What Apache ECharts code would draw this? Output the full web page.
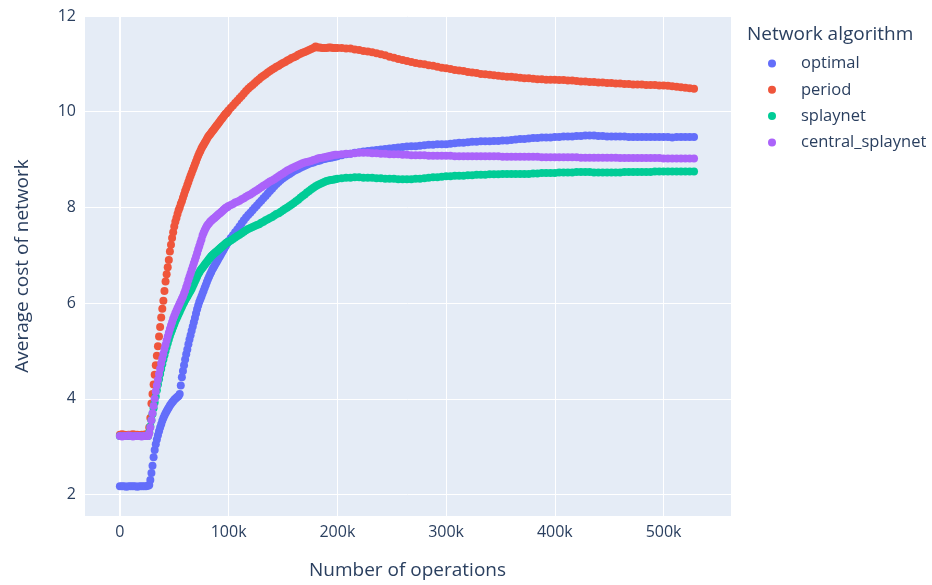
<!DOCTYPE html>
<html>
<head>
<meta charset="utf-8">
<script src="https://cdn.jsdelivr.net/npm/echarts@6/dist/echarts.min.js"></script>
<style>
html,body{margin:0;padding:0;background:#fff;}
#chart{width:932px;height:585px;}
</style>
</head>
<body>
<div id="chart"></div>
<script>
// Number of operations (in thousands)
const opsK = [
  0,2,4,6,8,10,12,14,16,18,20,22,24,26,
  27,28,29,30,31,32,33,34,35,36,37,38,39,40,41,42,43,44,45,46,47,48,49,50,
  51,52,53,54,55,56,57,58,59,60,61,62,63,64,65,66,67,68,69,70,71,72,73,74,75,
  76,77,78,79,80,81,82,83,84,85,86,87,88,89,90,91,92,93,94,95,96,97,98,99,100,
  102,104,106,108,110,112,114,116,118,120,
  122,124,126,128,130,132,134,136,138,140,
  142,144,146,148,150,152,154,156,158,160,
  162,164,166,168,170,172,174,176,178,180,
  182,184,186,188,190,192,194,196,198,200,
  204,208,212,216,220,224,228,232,236,240,
  244,248,252,256,260,264,268,272,276,280,
  284,288,292,296,300,304,308,312,316,320,
  324,328,332,336,340,344,348,352,356,360,
  364,368,372,376,380,384,388,392,396,400,
  404,408,412,416,420,424,428,432,436,440,
  444,448,452,456,460,464,468,472,476,480,
  484,488,492,496,500,504,508,512,516,520,
  524,528
];

const seriesNames = ['optimal','period','splaynet','central_splaynet'];

const optimal = [
  2.17,2.17,2.17,2.16,2.17,2.17,2.17,2.17,2.16,2.17,2.17,2.17,2.17,2.18,
  2.2,2.3,2.45,2.6,2.78,2.93,3.05,3.15,3.24,3.32,3.4,3.47,3.54,3.6,3.65,3.7,3.74,3.78,3.82,3.86,3.89,3.92,3.95,3.98,
  4.0,4.02,4.04,4.06,4.1,4.28,4.45,4.58,4.7,4.82,4.93,5.03,5.14,5.24,5.33,5.42,5.51,5.6,5.69,5.78,5.87,5.95,6.02,6.08,6.14,
  6.2,6.26,6.32,6.38,6.44,6.5,6.55,6.6,6.65,6.7,6.74,6.78,6.82,6.86,6.9,6.94,6.98,7.02,7.06,7.1,7.14,7.18,7.22,7.26,7.3,
  7.36,7.42,7.48,7.54,7.6,7.67,7.73,7.79,7.84,7.89,
  7.94,7.99,8.04,8.09,8.14,8.19,8.24,8.29,8.34,8.39,
  8.44,8.49,8.53,8.57,8.61,8.64,8.67,8.7,8.73,8.76,
  8.78,8.8,8.83,8.85,8.87,8.89,8.91,8.93,8.94,8.96,
  8.97,8.98,9.0,9.01,9.02,9.03,9.04,9.05,9.06,9.07,
  9.09,9.11,9.12,9.14,9.15,9.17,9.18,9.19,9.2,9.21,
  9.22,9.23,9.24,9.25,9.26,9.27,9.28,9.28,9.29,9.3,
  9.31,9.31,9.32,9.32,9.32,9.33,9.34,9.35,9.35,9.36,
  9.37,9.37,9.38,9.38,9.38,9.39,9.39,9.4,9.4,9.41,
  9.42,9.43,9.43,9.44,9.45,9.45,9.46,9.46,9.46,9.47,
  9.47,9.48,9.48,9.48,9.49,9.49,9.5,9.5,9.5,9.49,
  9.49,9.48,9.48,9.48,9.48,9.48,9.47,9.47,9.47,9.47,
  9.47,9.47,9.47,9.47,9.47,9.47,9.46,9.47,9.47,9.47,
  9.47,9.47
];

const period = [
  3.25,3.26,3.25,3.24,3.25,3.25,3.26,3.25,3.25,3.24,3.25,3.25,3.26,3.25,
  3.4,3.6,3.9,4.1,4.3,4.5,4.7,4.9,5.1,5.3,5.5,5.7,5.88,6.05,6.25,6.45,6.6,6.75,6.9,7.08,7.22,7.36,7.48,7.6,
  7.7,7.78,7.86,7.94,8.0,8.07,8.13,8.2,8.27,8.34,8.4,8.47,8.53,8.6,8.66,8.72,8.78,8.84,8.9,8.96,9.02,9.08,9.13,9.18,9.23,
  9.27,9.31,9.35,9.39,9.43,9.47,9.5,9.53,9.56,9.59,9.62,9.65,9.68,9.71,9.74,9.77,9.8,9.83,9.86,9.89,9.92,9.95,9.97,10.0,10.03,
  10.08,10.13,10.18,10.23,10.28,10.33,10.38,10.43,10.48,10.52,
  10.56,10.6,10.64,10.68,10.72,10.75,10.78,10.82,10.85,10.88,
  10.91,10.94,10.96,10.99,11.02,11.04,11.07,11.09,11.12,11.14,
  11.16,11.19,11.21,11.23,11.25,11.27,11.29,11.31,11.33,11.36,
  11.34,11.34,11.33,11.33,11.33,11.34,11.34,11.33,11.33,11.33,
  11.33,11.32,11.32,11.3,11.29,11.27,11.26,11.24,11.22,11.2,
  11.18,11.15,11.13,11.1,11.08,11.06,11.04,11.02,11.0,10.99,
  10.97,10.96,10.94,10.92,10.91,10.89,10.87,10.86,10.85,10.83,
  10.82,10.81,10.79,10.78,10.77,10.76,10.75,10.74,10.73,10.73,
  10.72,10.71,10.7,10.7,10.69,10.68,10.68,10.67,10.67,10.67,
  10.66,10.66,10.65,10.65,10.64,10.63,10.63,10.62,10.62,10.61,
  10.61,10.6,10.6,10.59,10.59,10.58,10.58,10.57,10.57,10.57,
  10.56,10.56,10.56,10.55,10.55,10.54,10.53,10.52,10.51,10.5,
  10.49,10.48
];

const splaynet = [
  3.22,3.22,3.22,3.22,3.22,3.22,3.22,3.22,3.22,3.22,3.22,3.22,3.22,3.22,
  3.3,3.42,3.55,3.68,3.8,3.92,4.05,4.18,4.3,4.41,4.52,4.62,4.72,4.82,4.91,5.0,5.08,5.16,5.24,5.31,5.38,5.44,5.5,5.56,
  5.62,5.67,5.72,5.77,5.82,5.87,5.92,5.97,6.01,6.06,6.1,6.14,6.18,6.22,6.26,6.3,6.35,6.4,6.45,6.5,6.55,6.6,6.64,6.68,6.71,
  6.74,6.77,6.8,6.83,6.86,6.89,6.92,6.95,6.98,7.0,7.02,7.04,7.06,7.08,7.1,7.12,7.14,7.16,7.18,7.2,7.22,7.24,7.26,7.27,7.28,
  7.31,7.34,7.37,7.4,7.43,7.46,7.49,7.52,7.55,7.57,
  7.59,7.61,7.63,7.65,7.68,7.7,7.73,7.75,7.78,7.8,
  7.83,7.86,7.88,7.91,7.94,7.97,8.0,8.03,8.06,8.09,
  8.13,8.16,8.2,8.24,8.27,8.31,8.34,8.38,8.41,8.44,
  8.47,8.49,8.51,8.53,8.55,8.56,8.57,8.58,8.59,8.6,
  8.61,8.62,8.62,8.63,8.63,8.62,8.62,8.62,8.61,8.61,
  8.6,8.6,8.6,8.59,8.59,8.59,8.59,8.6,8.6,8.61,
  8.62,8.63,8.63,8.64,8.65,8.65,8.66,8.66,8.66,8.67,
  8.67,8.68,8.68,8.68,8.69,8.69,8.69,8.7,8.7,8.7,
  8.7,8.7,8.7,8.7,8.71,8.71,8.72,8.72,8.72,8.72,
  8.73,8.73,8.73,8.73,8.74,8.74,8.74,8.74,8.73,8.73,
  8.73,8.73,8.73,8.73,8.73,8.74,8.74,8.74,8.74,8.74,
  8.74,8.74,8.75,8.75,8.75,8.75,8.75,8.75,8.75,8.75,
  8.75,8.75
];

const centralSplaynet = [
  3.22,3.21,3.22,3.22,3.23,3.22,3.21,3.22,3.22,3.22,3.21,3.22,3.22,3.22,
  3.28,3.4,3.55,3.7,3.85,4.0,4.15,4.28,4.4,4.52,4.63,4.74,4.84,4.94,5.04,5.13,5.22,5.3,5.38,5.46,5.53,5.6,5.67,5.73,
  5.79,5.84,5.89,5.94,5.99,6.04,6.09,6.14,6.2,6.26,6.33,6.4,6.48,6.55,6.62,6.69,6.76,6.83,6.9,6.97,7.04,7.12,7.19,7.26,7.33,
  7.41,7.47,7.52,7.57,7.61,7.64,7.67,7.7,7.72,7.74,7.76,7.78,7.8,7.82,7.84,7.86,7.88,7.9,7.92,7.94,7.96,7.98,8.0,8.01,8.03,
  8.05,8.07,8.1,8.12,8.14,8.17,8.19,8.22,8.25,8.27,
  8.3,8.33,8.36,8.39,8.42,8.45,8.48,8.51,8.54,8.56,
  8.59,8.62,8.65,8.68,8.71,8.74,8.77,8.79,8.82,8.84,
  8.86,8.88,8.9,8.92,8.94,8.95,8.96,8.97,8.99,9.0,
  9.02,9.03,9.04,9.05,9.06,9.07,9.08,9.09,9.1,9.1,
  9.11,9.12,9.12,9.13,9.14,9.14,9.14,9.13,9.13,9.12,
  9.12,9.11,9.11,9.11,9.1,9.1,9.09,9.09,9.09,9.09,
  9.08,9.08,9.08,9.08,9.08,9.08,9.07,9.07,9.07,9.07,
  9.07,9.07,9.07,9.07,9.07,9.07,9.07,9.06,9.06,9.06,
  9.06,9.06,9.06,9.06,9.06,9.06,9.05,9.05,9.05,9.05,
  9.05,9.05,9.05,9.05,9.05,9.04,9.04,9.04,9.04,9.04,
  9.04,9.04,9.04,9.04,9.03,9.03,9.03,9.03,9.03,9.03,
  9.03,9.03,9.03,9.03,9.02,9.02,9.02,9.02,9.02,9.02,
  9.02,9.02
];

const colors = ['#636efa','#EF553B','#00cc96','#ab63fa'];
const FONT = '"Open Sans", sans-serif';
const TXT = '#2a3f5f';

const allValues = [optimal, period, splaynet, centralSplaynet];

const chart = echarts.init(document.getElementById('chart'), null, {renderer:'canvas'});

const series = seriesNames.map((name, si) => ({
  name: name,
  type: 'scatter',
  symbol: 'circle',
  symbolSize: 8,
  itemStyle: {color: colors[si], opacity: 1},
  data: opsK.map((k, i) => [k * 1000, allValues[si][i]]),
  z: 2 + si
}));

series[0].markLine = {
  silent: true,
  symbol: 'none',
  label: {show: false},
  lineStyle: {color: '#ffffff', width: 2, type: 'solid'},
  data: [{xAxis: 0}],
  z: 1
};

chart.setOption({
  animation: false,
  backgroundColor: '#ffffff',
  color: colors,
  textStyle: {fontFamily: FONT},
  title: {
    text: 'Network algorithm',
    left: 747,
    top: 25,
    padding: 0,
    textStyle: {fontFamily: FONT, fontSize: 19, fontWeight: 'normal', color: TXT}
  },
  legend: {
    orient: 'vertical',
    left: 768,
    top: 54,
    padding: 0,
    itemWidth: 48,
    itemHeight: 8,
    itemGap: 7.3,
    icon: 'circle',
    selectedMode: false,
    textStyle: {fontFamily: FONT, fontSize: 16.5, color: TXT, lineHeight: 19},
    data: seriesNames
  },
  grid: {
    left: 84,
    right: 201,
    top: 16,
    bottom: 66,
    show: true,
    backgroundColor: '#E5ECF6',
    borderWidth: 0,
    containLabel: false
  },
  xAxis: {
    type: 'value',
    min: -33000,
    max: 562000,
    splitNumber: 5,
    name: 'Number of operations',
    nameLocation: 'middle',
    nameGap: 45,
    nameTextStyle: {fontFamily: FONT, fontSize: 19, color: TXT},
    axisLine: {show: false},
    axisTick: {show: false},
    axisLabel: {
      show: true,
      showMinLabel: false,
      showMaxLabel: false,
      margin: 8,
      fontFamily: FONT,
      fontSize: 16,
      color: TXT,
      formatter: v => v === 0 ? '0' : (v / 1000) + 'k'
    },
    splitLine: {show: true, lineStyle: {color: '#ffffff', width: 1}}
  },
  yAxis: {
    type: 'value',
    min: 1.55,
    max: 12,
    splitNumber: 5,
    name: 'Average cost of network',
    nameLocation: 'middle',
    nameGap: 52,
    nameRotate: 90,
    nameTextStyle: {fontFamily: FONT, fontSize: 19, color: TXT},
    axisLine: {show: false},
    axisTick: {show: false},
    axisLabel: {
      show: true,
      showMinLabel: false,
      margin: 8,
      fontFamily: FONT,
      fontSize: 16,
      color: TXT
    },
    splitLine: {show: true, lineStyle: {color: '#ffffff', width: 1}}
  },
  series: series
});
</script>
</body>
</html>
